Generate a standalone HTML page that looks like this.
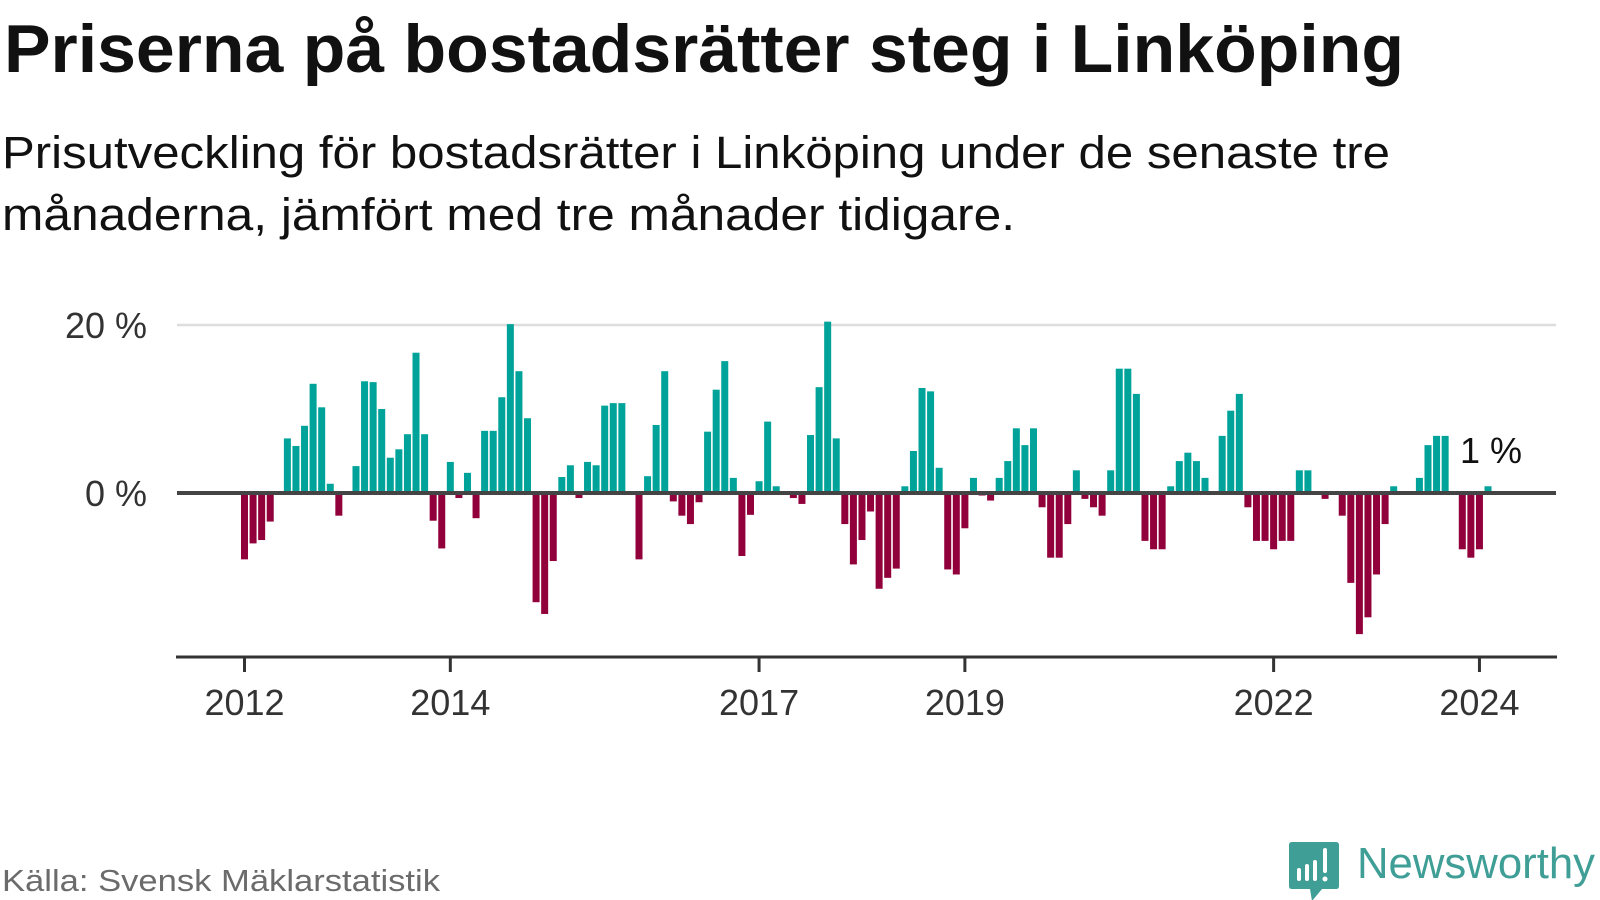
<!DOCTYPE html>
<html><head><meta charset="utf-8"><style>
html,body{margin:0;padding:0;background:#fff;}
svg{display:block;font-family:"Liberation Sans",sans-serif;}
</style></head><body>
<svg id="chart" width="1600" height="900" viewBox="0 0 1600 900" xmlns="http://www.w3.org/2000/svg">
<text x="4" y="72" font-size="68" font-weight="bold" fill="#111" textLength="1400" lengthAdjust="spacingAndGlyphs">Priserna på bostadsrätter steg i Linköping</text>
<text x="2" y="168" font-size="45" fill="#111" textLength="1388" lengthAdjust="spacingAndGlyphs">Prisutveckling för bostadsrätter i Linköping under de senaste tre</text>
<text x="2" y="230" font-size="45" fill="#111" textLength="1013" lengthAdjust="spacingAndGlyphs">månaderna, jämfört med tre månader tidigare.</text>
<g id="grid"></g>
<g id="bars"></g>
<g id="axes"></g>
<text x="1460" y="463" font-size="36" fill="#111">1 %</text>
<text x="2" y="891" font-size="31" fill="#6b6b6b" textLength="438" lengthAdjust="spacingAndGlyphs">Källa: Svensk Mäklarstatistik</text>
<g>
<path d="M1292 842 H1336 Q1339 842 1339 845 V886 Q1339 889 1336 889 H1322 L1312 901 L1310 889 H1292 Q1289 889 1289 886 V845 Q1289 842 1292 842 Z" fill="#3f9e96"/>
<rect x="1297" y="868" width="4" height="13" rx="2" fill="#fff"/>
<rect x="1305" y="864" width="4" height="17" rx="2" fill="#fff"/>
<rect x="1313" y="860" width="4" height="21" rx="2" fill="#fff"/>
<rect x="1323" y="848" width="4" height="25" rx="2" fill="#fff"/>
<circle cx="1325" cy="879" r="2.5" fill="#fff"/>
<text x="1357" y="878" font-size="44" fill="#3f9e96" textLength="238" lengthAdjust="spacingAndGlyphs">Newsworthy</text>
</g>
</svg>
<script>
const startYear = 2012;
const values = [
-7.9,-6.0,-5.6,-3.4,0,6.5,5.6,8.0,13.0,10.2,1.1,-2.7,
0,3.2,13.3,13.2,10.0,4.2,5.2,7.0,16.7,7.0,-3.3,-6.6,
3.7,-0.6,2.4,-3.0,7.4,7.4,11.4,20.1,14.5,8.9,-13.0,-14.4,
-8.1,1.9,3.3,-0.6,3.7,3.3,10.4,10.7,10.7,0,-7.9,2.0,
8.1,14.5,-1.0,-2.7,-3.7,-1.1,7.3,12.3,15.7,1.8,-7.5,-2.6,
1.4,8.5,0.8,0,-0.6,-1.3,6.9,12.6,20.4,6.5,-3.7,-8.5,
-5.6,-2.2,-11.4,-10.1,-9.0,0.8,5.0,12.5,12.1,3.0,-9.1,-9.7,
-4.2,1.8,-0.3,-0.9,1.8,3.8,7.7,5.7,7.7,-1.7,-7.7,-7.7,
-3.7,2.7,-0.7,-1.7,-2.7,2.7,14.8,14.8,11.8,-5.7,-6.7,-6.7,
0.8,3.8,4.8,3.8,1.8,0,6.8,9.8,11.8,-1.7,-5.7,-5.7,
-6.7,-5.7,-5.7,2.7,2.7,0,-0.7,0,-2.7,-10.7,-16.8,-14.8,
-9.7,-3.7,0.8,0,0,1.8,5.7,6.8,6.8,0,-6.7,-7.7,
-6.7,0.8
];
const yTicks = [0, 20];
const yTickLabels = ["0 %", "20 %"];
const xTickYears = [2012, 2014, 2017, 2019, 2022, 2024];
const xTickLabels = ["2012", "2014", "2017", "2019", "2022", "2024"];

const NS = "http://www.w3.org/2000/svg";
const X0 = 244.5, PITCH = 8.576, Y0 = 493, PPU = 8.4;
function xScale(i){ return X0 + i*PITCH; }
function yScale(v){ return Y0 - v*PPU; }
function mk(tag, attrs, parent){ const e=document.createElementNS(NS,tag); for(const k in attrs) e.setAttribute(k,attrs[k]); parent.appendChild(e); return e; }

const grid = document.getElementById('grid');
const bars = document.getElementById('bars');
const axes = document.getElementById('axes');

yTicks.forEach((t,i)=>{
  if(t!==0){
    const l = mk('line',{x1:177,x2:1556,y1:yScale(t),y2:yScale(t),stroke:'#dddddd','stroke-width':2.5},grid);
    
    
  }
  const tx = mk('text',{x:147,y:yScale(t)+13,'font-size':36,fill:'#333','text-anchor':'end'},axes);
  tx.textContent = yTickLabels[i];
  
  
});

values.forEach((v,i)=>{
  if(v===0) return;
  const x = xScale(i) - 3.5;
  const y = v>0 ? yScale(v) : Y0;
  const h = Math.abs(v)*PPU;
  const r = mk('rect',{x:x,y:y,width:7,height:h,fill: v>0 ? '#00a39a' : '#91003a'},bars);
  
  
});

const zl = mk('line',{x1:177,x2:1556,y1:Y0,y2:Y0,stroke:'#444','stroke-width':4},axes);


const xa = mk('line',{x1:176,x2:1557,y1:657,y2:657,stroke:'#333','stroke-width':3},axes);



xTickYears.forEach((yr,i)=>{
  const x = xScale((yr-startYear)*12);
  const tk = mk('line',{x1:x,x2:x,y1:657,y2:672,stroke:'#333','stroke-width':3},axes);
  
  
  const tx = mk('text',{x:x,y:715,'font-size':36,fill:'#333','text-anchor':'middle'},axes);
  tx.textContent = xTickLabels[i];
  
  
});
</script>
</body></html>
